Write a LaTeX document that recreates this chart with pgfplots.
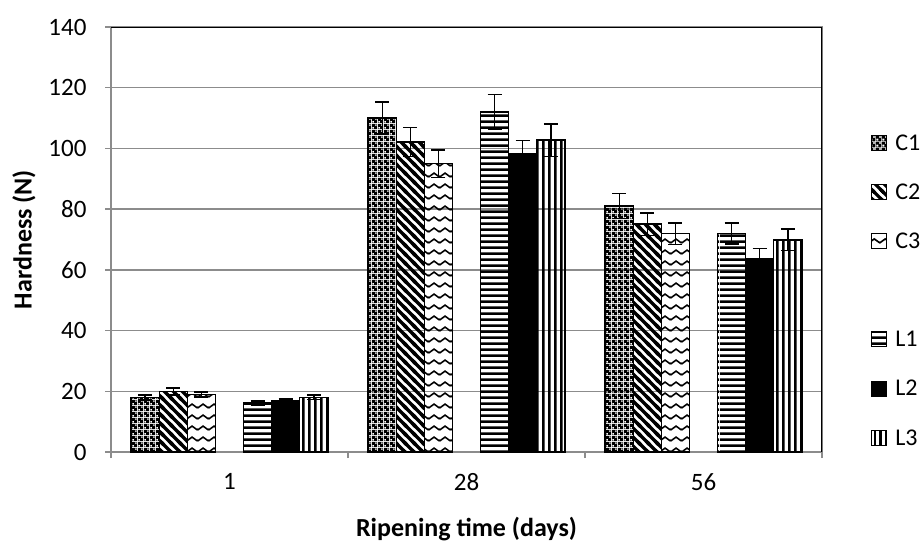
\documentclass[border=0pt]{standalone}
\usepackage{fontspec}
\setmainfont{Carlito}
\usepackage{pgfplots}
\pgfplotsset{compat=1.18}
\usetikzlibrary{patterns}

% C1: black with small white dots in a diamond arrangement
\pgfdeclarepatternformonly{cone}{\pgfqpoint{0pt}{0pt}}{\pgfqpoint{6pt}{6pt}}{\pgfqpoint{6pt}{6pt}}{%
  \pgfpathrectangle{\pgfqpoint{0pt}{0pt}}{\pgfqpoint{6pt}{6pt}}%
  \pgfpathrectangle{\pgfqpoint{0.5pt}{0.5pt}}{\pgfqpoint{2pt}{2pt}}%
  \pgfpathrectangle{\pgfqpoint{3.5pt}{3.5pt}}{\pgfqpoint{2pt}{2pt}}%
  \pgfseteorule\pgfusepath{fill}}
% C2: thick "\" diagonals
\pgfdeclarepatternformonly{ctwo}{\pgfqpoint{-2pt}{-2pt}}{\pgfqpoint{11pt}{11pt}}{\pgfqpoint{9pt}{9pt}}{%
  \pgfsetlinewidth{3.2pt}%
  \pgfpathmoveto{\pgfqpoint{-2pt}{11pt}}\pgfpathlineto{\pgfqpoint{11pt}{-2pt}}%
  \pgfpathmoveto{\pgfqpoint{-2pt}{2pt}}\pgfpathlineto{\pgfqpoint{2pt}{-2pt}}%
  \pgfpathmoveto{\pgfqpoint{7pt}{11pt}}\pgfpathlineto{\pgfqpoint{11pt}{7pt}}%
  \pgfusepath{stroke}}
% C3: waves
\pgfdeclarepatternformonly{cthree}{\pgfqpoint{0pt}{0pt}}{\pgfqpoint{11pt}{11pt}}{\pgfqpoint{11pt}{11pt}}{%
  \pgfsetlinewidth{1.7pt}%
  \pgfpathmoveto{\pgfqpoint{-5.5pt}{7.5pt}}%
  \pgfpathlineto{\pgfqpoint{0pt}{3.5pt}}%
  \pgfpathlineto{\pgfqpoint{5.5pt}{7.5pt}}%
  \pgfpathlineto{\pgfqpoint{11pt}{3.5pt}}%
  \pgfpathlineto{\pgfqpoint{16.5pt}{7.5pt}}%
  \pgfusepath{stroke}}
% L1: horizontal stripes
\pgfdeclarepatternformonly{lone}{\pgfqpoint{0pt}{0pt}}{\pgfqpoint{60pt}{6pt}}{\pgfqpoint{60pt}{6pt}}{%
  \pgfpathrectangle{\pgfqpoint{0pt}{0pt}}{\pgfqpoint{60pt}{3pt}}%
  \pgfusepath{fill}}
% L3: vertical stripes
\pgfdeclarepatternformonly{lthree}{\pgfqpoint{0pt}{0pt}}{\pgfqpoint{5.6pt}{60pt}}{\pgfqpoint{5.6pt}{60pt}}{%
  \pgfpathrectangle{\pgfqpoint{0pt}{0pt}}{\pgfqpoint{2.8pt}{60pt}}%
  \pgfusepath{fill}}

\definecolor{gridgray}{RGB}{140,140,140}

\begin{document}
\begin{tikzpicture}
\useasboundingbox (0,0) rectangle (920pt,542pt);
\begin{axis}[
  at={(111pt,90pt)}, anchor=south west,
  scale only axis, width=711pt, height=425pt,
  ybar=0pt, bar width=0.1185,
  xmin=-0.5, xmax=2.5, ymin=0, ymax=140,
  ytick={0,20,...,140},
  xtick={-0.5,0.5,1.5,2.5}, xticklabels={},
  extra x ticks={0,1,2}, extra x tick labels={1,28,56},
  extra x tick style={major tick length=0pt, grid=none},
  ymajorgrids, grid style={gridgray, line width=1.3pt},
  axis line style={gridgray, line width=1.3pt},
  tick style={gridgray, line width=1.3pt},
  tick align=outside, major tick length=6pt,
  tick pos=left,
  /pgf/number format/assume math mode=true,
  tick label style={font=\fontsize{25}{30}\selectfont},
  yticklabel style={xshift=-15pt},
  xticklabel style={yshift=-18pt},
  xlabel={Ripening time (days)},
  ylabel={Hardness (N)},
  every axis y label/.style={at={(axis description cs:-0.1224,0.5)}, rotate=90, anchor=center,
    font=\bfseries\fontsize{26}{30}\selectfont},
  every axis x label/.style={at={(axis description cs:0.5,-0.1993)}, anchor=base,
    font=\bfseries\fontsize{26}{30}\selectfont},
  legend style={at={(axis description cs:1.0689,0.7502)}, anchor=north west,
    draw=none, fill=none, inner sep=0pt, row sep=31.8pt,
    font=\fontsize{24}{28}\selectfont,
    nodes={inner sep=0pt, text height=17pt, text depth=0pt}},
  legend cell align=left,
  legend image code/.code={\draw[#1, line width=0.8pt] (0pt,-8.5pt) rectangle (15pt,6.5pt); \path (23pt,0pt);},
  every axis plot/.append style={draw=black, line width=1.5pt,
    error bars/y dir=both, error bars/y explicit,
    error bars/error bar style={black, line width=1.5pt},
    error bars/error mark options={black, rotate=90, mark size=7pt, line width=1.5pt}},
]
\addplot[bar shift=-0.3555, pattern=cone, pattern color=black] coordinates {(0,18.0) +- (0,0.8) (1,110.0) +- (0,5.3) (2,81.0) +- (0,4.1)};
\addlegendentry{C1}
\addplot[bar shift=-0.237, pattern=ctwo, pattern color=black] coordinates {(0,19.9) +- (0,1.2) (1,102.1) +- (0,4.8) (2,75.1) +- (0,3.7)};
\addlegendentry{C2}
\addplot[bar shift=-0.1185, pattern=cthree, pattern color=black] coordinates {(0,19.0) +- (0,0.8) (1,95.0) +- (0,4.5) (2,71.9) +- (0,3.5)};
\addlegendentry{C3}
\addlegendimage{empty legend}
\addlegendentry{}
\addplot[bar shift=0.1185, pattern=lone, pattern color=black] coordinates {(0,16.1) +- (0,0.7) (1,112.0) +- (0,5.7) (2,72.0) +- (0,3.4)};
\addlegendentry{L1}
\addplot[bar shift=0.237, fill=black] coordinates {(0,16.9) +- (0,0.6) (1,98.4) +- (0,4.2) (2,63.8) +- (0,3.3)};
\addlegendentry{L2}
\addplot[bar shift=0.3555, pattern=lthree, pattern color=black] coordinates {(0,18.0) +- (0,0.7) (1,102.7) +- (0,5.3) (2,69.9) +- (0,3.5)};
\addlegendentry{L3}
\draw[black, line width=1.6pt] (rel axis cs:0,1) -- (rel axis cs:1,1) -- (rel axis cs:1,0);
\end{axis}
\end{tikzpicture}
\end{document}
